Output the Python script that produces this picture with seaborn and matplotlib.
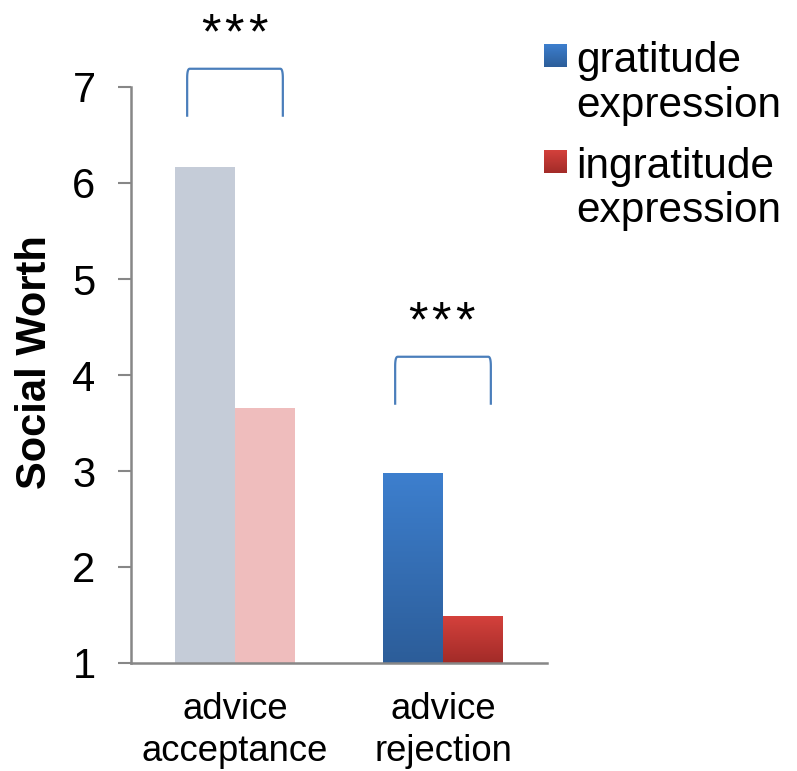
import numpy as np
import pandas as pd
import matplotlib
matplotlib.use("Agg")
import matplotlib.pyplot as plt
import seaborn as sns
from matplotlib.colors import LinearSegmentedColormap
from matplotlib.transforms import offset_copy

# ---- data ----
conditions = ["advice\nacceptance", "advice\nrejection"]
series = ["gratitude\nexpression", "ingratitude\nexpression"]
gratitude_vals = [6.17, 2.97]
ingratitude_vals = [3.66, 1.48]
y_ticks = [1, 2, 3, 4, 5, 6, 7]
sig_labels = ["***", "***"]

df = pd.DataFrame({
    "condition": conditions * 2,
    "expression": [series[0]] * 2 + [series[1]] * 2,
    "value": gratitude_vals + ingratitude_vals,
})

sns.set_theme(style="white")
plt.rcParams["font.family"] = ["Liberation Sans", "DejaVu Sans"]
for k in ["text.color", "axes.labelcolor", "xtick.labelcolor", "ytick.labelcolor"]:
    plt.rcParams[k] = "black"

fig = plt.figure(figsize=(7.97, 7.71), dpi=100)
ax = fig.add_axes([131 / 797, 1 - 663 / 771, (547 - 131) / 797, (663 - 87) / 771])

sns.barplot(data=df, x="condition", y="value", hue="expression",
            hue_order=series, order=conditions, width=0.575,
            palette=["#C5CCD8", "#EFBDBD"], legend=False, ax=ax,
            saturation=1, errorbar=None, linewidth=0)

blue_cmap = LinearSegmentedColormap.from_list("b", ["#2C5D99", "#3D7FCE"])
red_cmap = LinearSegmentedColormap.from_list("r", ["#A22B28", "#D4413C"])
grad = np.linspace(0, 1, 256).reshape(-1, 1)

# patches: [acc grat, rej grat, acc ingrat, rej ingrat]
bars = ax.patches
bars[0].set_facecolor("#C5CCD8")
bars[2].set_facecolor("#EFBDBD")
for p, cm in [(bars[1], blue_cmap), (bars[3], red_cmap)]:
    x0, w, h = p.get_x(), p.get_width(), p.get_height()
    ax.imshow(grad, extent=[x0, x0 + w, 1, h], origin="lower", aspect="auto",
              cmap=cm, zorder=p.get_zorder() + 0.1)

ax.set_xlim(-0.5, 1.5)
ax.set_ylim(1, 7)
ax.set_yticks(y_ticks)
ax.set_yticklabels([str(t) for t in y_ticks])
ax.set_xlabel("")
ax.set_ylabel("Social Worth", fontsize=30, fontweight="bold")
ax.yaxis.set_label_coords((35 - 131) / 416, (663 - 362) / 576)
ax.yaxis.label.set_verticalalignment("center")

for s in ["top", "right"]:
    ax.spines[s].set_visible(False)
for s in ["left", "bottom"]:
    ax.spines[s].set_color("#878787")
    ax.spines[s].set_linewidth(1.8)
ax.tick_params(axis="y", which="major", direction="out", length=9.5, width=1.5,
               color="#878787", left=True, labelsize=30, pad=16)
ax.tick_params(axis="x", length=0, labelsize=26.3, pad=21)
for lbl in ax.get_xticklabels():
    lbl.set_linespacing(1.24)

# significance brackets
def bracket(xc, ybot, ytop, half=0.23):
    xs = []
    ys = []
    r = 0.012
    ry = 0.1
    t = np.linspace(0, 1, 12)
    xs += [xc - half, xc - half]
    ys += [ybot, ytop - ry]
    xs += list((1 - t) ** 2 * (xc - half) + 2 * (1 - t) * t * (xc - half) + t ** 2 * (xc - half + r))
    ys += list((1 - t) ** 2 * (ytop - ry) + 2 * (1 - t) * t * ytop + t ** 2 * ytop)
    xs += list((1 - t) ** 2 * (xc + half - r) + 2 * (1 - t) * t * (xc + half) + t ** 2 * (xc + half))
    ys += list((1 - t) ** 2 * ytop + 2 * (1 - t) * t * ytop + t ** 2 * (ytop - ry))
    xs += [xc + half]
    ys += [ybot]
    ax.plot(xs, ys, color="#4A7EBB", lw=1.6, clip_on=False, solid_capstyle="butt")

bracket(0, 6.69, 7.19)
bracket(1, 3.69, 4.19)

# asterisks, drawn one by one with wide spacing
pitch_pt = 23.5 * 72 / 100
for xc, yb, lab in [(-0.005, 7.406, sig_labels[0]), (0.99, 4.406, sig_labels[1])]:
    n = len(lab)
    for i, ch in enumerate(lab):
        dx = (i - (n - 1) / 2) * pitch_pt
        tr = offset_copy(ax.transData, fig=fig, x=dx, y=0, units="points")
        ax.text(xc, yb, ch, transform=tr, ha="center", va="baseline",
                fontsize=36, clip_on=False)

# legend (drawn manually so the square sits next to the first text line)
leg_cmaps = [blue_cmap, red_cmap]
centers = [(61, 106), (167, 211)]
for lab, cm, (c1, c2) in zip(series, leg_cmaps, centers):
    sq_top = c1 - 17
    ax_sq = fig.add_axes([544 / 797, 1 - (sq_top + 23) / 771, 23 / 797, 23 / 771])
    ax_sq.imshow(grad, origin="lower", aspect="auto", cmap=cm)
    ax_sq.axis("off")
    l1, l2 = lab.split("\n")
    fig.text(576 / 797, 1 - c1 / 771, l1, fontsize=30.5, va="center", ha="left")
    fig.text(576 / 797, 1 - c2 / 771, l2, fontsize=30.5, va="center", ha="left")

fig.savefig("out.png", dpi=100)
